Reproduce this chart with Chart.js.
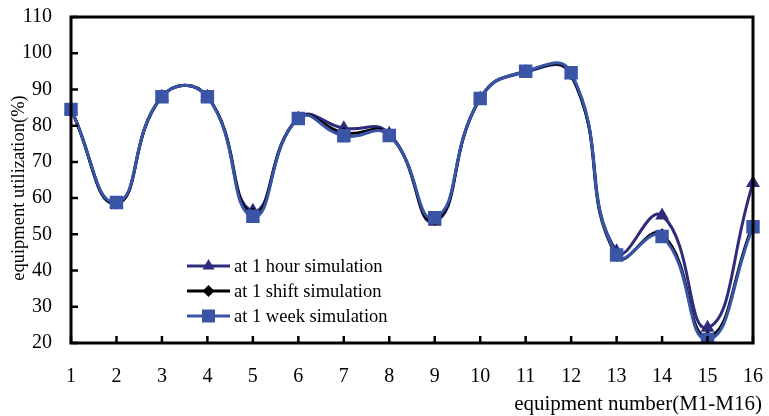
<!DOCTYPE html>
<html>
<head>
<meta charset="utf-8">
<script src="https://cdn.jsdelivr.net/npm/chart.js@4/dist/chart.umd.min.js"></script>
<style>
  body { margin: 0; background: #fff; }
  canvas { display: block; }
</style>
</head>
<body>
<canvas id="chart" width="769" height="416"></canvas>
<script>
// equipment M1..M16
const machines = ["1","2","3","4","5","6","7","8","9","10","11","12","13","14","15","16"];
const hourSim  = [84.5, 58.5, 88, 88, 56.5, 82, 79.3, 77.8, 53.5, 87.5, 94.8, 94, 45.3, 55.2, 24.2, 64.2];
const shiftSim = [84.5, 58.5, 88, 88, 55.8, 82, 78, 77.5, 54, 87.5, 95, 94.2, 44, 50, 21.8, 52.6];
const weekSim  = [84.5, 58.8, 88, 88, 55, 82, 77.2, 77.3, 54.6, 87.5, 95, 94.6, 44.3, 49.4, 21, 52.1];
const yTicks = [20, 30, 40, 50, 60, 70, 80, 90, 100, 110];

const serif = "'Liberation Serif', 'Times New Roman', serif";
const hourColor = "#2f2b7c";
const shiftColor = "#000000";
const weekColor = "#3a55a6";

function marker(ctx, style, x, y, r, color) {
	ctx.save();
	ctx.fillStyle = color;
	ctx.beginPath();
	if (style === "triangle") {
		ctx.moveTo(x, y - r);
		ctx.lineTo(x + r * 0.866, y + r * 0.5);
		ctx.lineTo(x - r * 0.866, y + r * 0.5);
	} else if (style === "rectRot") {
		ctx.moveTo(x, y - r);
		ctx.lineTo(x + r, y);
		ctx.lineTo(x, y + r);
		ctx.lineTo(x - r, y);
	} else {
		ctx.rect(x - r, y - r, 2 * r, 2 * r);
	}
	ctx.closePath();
	ctx.fill();
	ctx.restore();
}

// frame, inward ticks, axis titles and the legend inside the plot
const decorPlugin = {
	id: "decor",
	afterDraw(chart) {
		const ctx = chart.ctx;
		const a = chart.chartArea;
		const xs = chart.scales.x, ys = chart.scales.y;
		ctx.save();
		ctx.strokeStyle = "#000";
		ctx.lineWidth = 3;
		ctx.strokeRect(a.left, a.top, a.right - a.left, a.bottom - a.top);
		ctx.lineWidth = 2.5;
		ctx.beginPath();
		yTicks.forEach(v => {
			const py = ys.getPixelForValue(v);
			ctx.moveTo(a.left, py);
			ctx.lineTo(a.left + 7, py);
		});
		machines.forEach((m, i) => {
			const px = xs.getPixelForValue(i);
			ctx.moveTo(px, a.bottom);
			ctx.lineTo(px, a.bottom - 7);
		});
		ctx.stroke();

		ctx.fillStyle = "#000";
		ctx.font = "21px " + serif;
		ctx.textAlign = "right";
		ctx.textBaseline = "middle";
		ctx.fillText("equipment number(M1-M16)", 762, 404);

		ctx.save();
		ctx.translate(19, 188);
		ctx.rotate(-Math.PI / 2);
		ctx.font = "18.5px " + serif;
		ctx.textAlign = "center";
		ctx.fillText("equipment utilization(%)", 0, 0);
		ctx.restore();

		const items = [
			{ label: "at 1 hour simulation", color: hourColor, style: "triangle", r: 7 },
			{ label: "at 1 shift simulation", color: shiftColor, style: "rectRot", r: 6 },
			{ label: "at 1 week simulation", color: weekColor, style: "rect", r: 6.5 }
		];
		ctx.font = "18.5px " + serif;
		ctx.textAlign = "left";
		items.forEach((it, i) => {
			const y = 266 + i * 25;
			ctx.strokeStyle = it.color;
			ctx.lineWidth = 3;
			ctx.beginPath();
			ctx.moveTo(187, y);
			ctx.lineTo(230, y);
			ctx.stroke();
			marker(ctx, it.style, 208.5, y, it.r, it.color);
			ctx.fillStyle = "#000";
			ctx.fillText(it.label, 234, y + 1);
		});
		ctx.restore();
	}
};

new Chart(document.getElementById("chart"), {
	type: "line",
	data: {
		labels: machines,
		datasets: [
			{
				label: "at 1 hour simulation",
				data: hourSim,
				borderColor: hourColor,
				backgroundColor: hourColor,
				pointStyle: "triangle",
				pointRadius: 8,
				order: 3
			},
			{
				label: "at 1 shift simulation",
				data: shiftSim,
				borderColor: shiftColor,
				backgroundColor: shiftColor,
				pointStyle: "rectRot",
				pointRadius: 6,
				order: 2
			},
			{
				label: "at 1 week simulation",
				data: weekSim,
				borderColor: weekColor,
				backgroundColor: weekColor,
				pointStyle: "rect",
				pointRadius: 9.5,
				order: 1
			}
		]
	},
	options: {
		responsive: false,
		devicePixelRatio: 1,
		animation: false,
		elements: {
			line: { borderWidth: 3, tension: 0.5, fill: false },
			point: { borderWidth: 0, hoverRadius: 8 }
		},
		layout: { padding: { top: 17, right: 16, left: 0, bottom: 0 } },
		plugins: {
			legend: { display: false },
			tooltip: { enabled: false }
		},
		scales: {
			x: {
				offset: false,
				grid: { display: false, drawTicks: false },
				border: { display: false },
				ticks: { color: "#000", font: { family: serif, size: 20 }, padding: 22, maxRotation: 0, autoSkip: false },
				afterFit(scale) {
					scale.height = 73;
					scale.paddingLeft = 0;
					scale.paddingRight = 0;
				}
			},
			y: {
				min: 20,
				max: 110,
				grid: { display: false, drawTicks: false },
				border: { display: false },
				ticks: { color: "#000", font: { family: serif, size: 20 }, padding: 19, stepSize: 10 },
				afterFit(scale) {
					scale.width = 71;
					scale.paddingTop = 0;
					scale.paddingBottom = 0;
				}
			}
		}
	},
	plugins: [decorPlugin]
});
</script>
</body>
</html>
